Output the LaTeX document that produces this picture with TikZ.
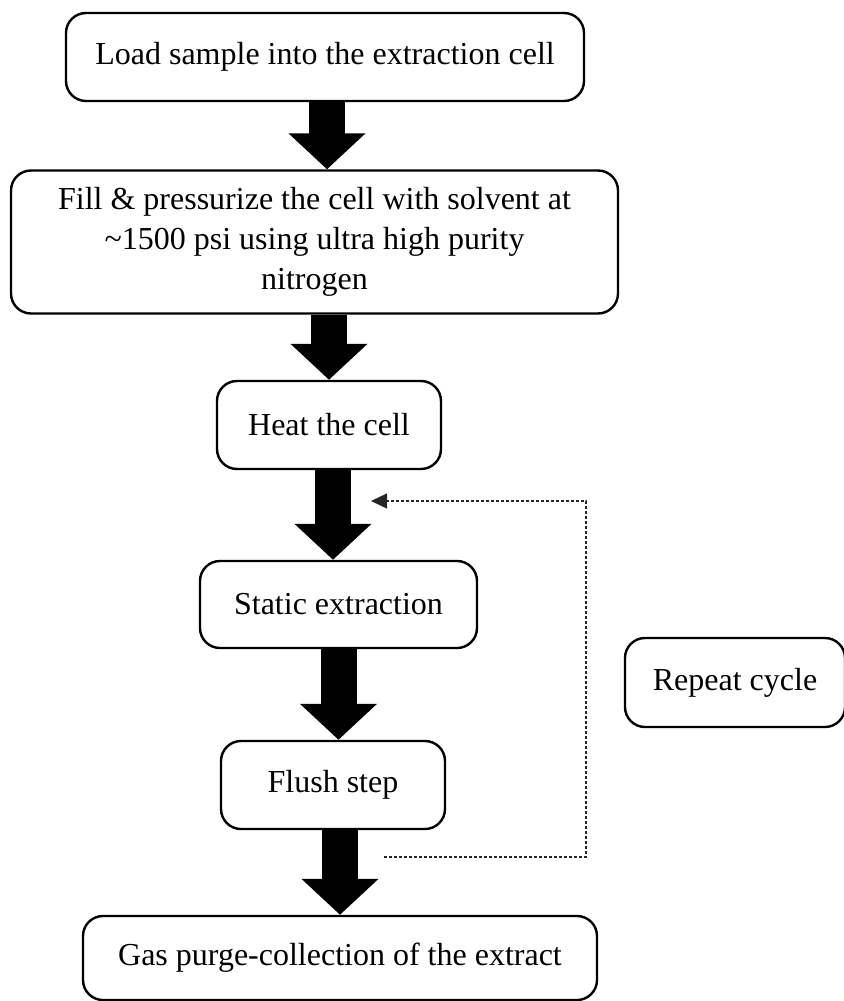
\documentclass[tikz,border=0pt]{standalone}
\usepackage{fontspec}
\setmainfont{Liberation Serif}
\usetikzlibrary{arrows.meta,calc}
\begin{document}
\begin{tikzpicture}[x=0.5pt,y=-0.5pt,
  stepbox/.style={draw=black,line width=1.2pt,rounded corners=10pt,align=center,
    inner sep=0pt,font=\fontsize{16}{20}\selectfont},
  fat/.style={line width=18pt,-{Triangle[width=37.5pt,length=18pt]}},
  loopline/.style={line width=0.6pt,black!85,dash pattern=on 1.5pt off 1pt,
    -{Triangle[width=7.5pt,length=8pt]}}]
\useasboundingbox (0,0) rectangle (843,1001);
\node[stepbox,minimum width=259pt,minimum height=44pt] (b1) at (325,57) {Load sample into the extraction cell};
\node[stepbox,minimum width=303.5pt,minimum height=71.5pt] (b2) at (314.5,242) {Fill \& pressurize the cell with solvent at\\ \textasciitilde1500 psi using ultra high purity\\ nitrogen};
\node[stepbox,minimum width=112pt,minimum height=44pt] (b3) at (329,425) {Heat the cell};
\node[stepbox,minimum width=138.5pt,minimum height=43.5pt] (b4) at (338.5,604.5) {Static extraction};
\node[stepbox,minimum width=112pt,minimum height=44pt] (b5) at (333,785) {Flush step};
\node[stepbox,minimum width=257pt,minimum height=42pt] (b6) at (340,958) {Gas purge-collection of the extract};
\node[stepbox,minimum width=110pt,minimum height=44.5pt] (rep) at (735,682.5) {Repeat cycle};
\draw[fat] ([xshift=1pt]b1.south) -- ([xshift=1pt]b1.south |- b2.north);
\draw[fat] (b2.south -| b3.north) -- (b3.north);
\draw[fat] ([xshift=2pt]b3.south) -- ([xshift=2pt]b3.south |- b4.north);
\draw[fat] (b4.south) -- (b4.south |- b5.north);
\draw[fat] ([xshift=3.5pt]b5.south) -- ([xshift=3.5pt]b5.south |- b6.north);
\coordinate (r1) at (384,857);
\coordinate (r2) at (371,501);
\draw[loopline] (r1) -- ++(202,0) |- (r2);
\end{tikzpicture}
\end{document}
